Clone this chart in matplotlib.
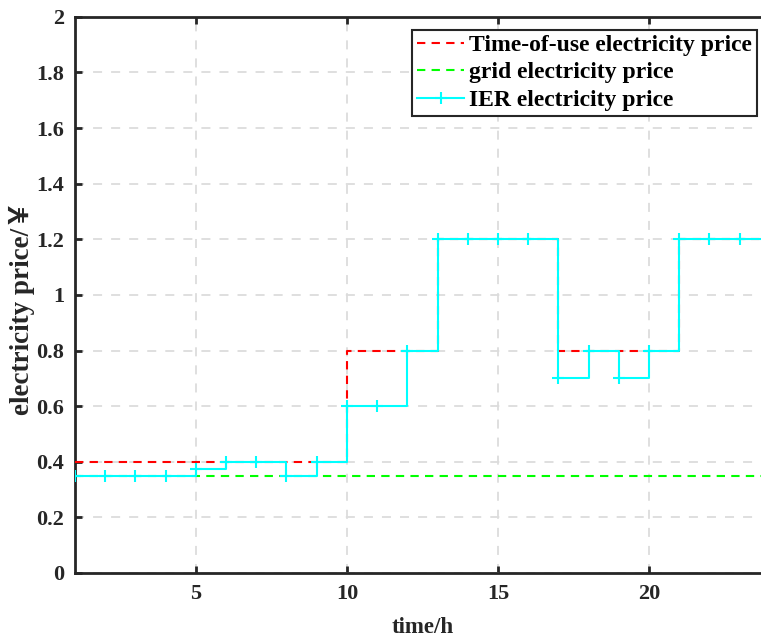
import matplotlib.pyplot as plt
from matplotlib.ticker import FuncFormatter

plt.rcParams['font.family'] = ['Liberation Serif', 'Noto Sans CJK SC', 'DejaVu Serif']
plt.rcParams['font.weight'] = 'bold'

hours = list(range(1, 25))
# time-of-use price
tou_price = [0.4] * 9 + [0.8] * 3 + [1.2] * 4 + [0.8] * 4 + [1.2] * 4
# grid price (flat)
grid_price = [0.35] * 24
# IER price
ier_price = [0.35, 0.35, 0.35, 0.35, 0.375, 0.4, 0.4, 0.35, 0.4, 0.6, 0.6, 0.8,
             1.2, 1.2, 1.2, 1.2, 0.7, 0.8, 0.7, 0.8, 1.2, 1.2, 1.2, 1.2]

fig = plt.figure(figsize=(7.61, 6.37), dpi=100)
ax = fig.add_axes([0.0986, 0.1005, 0.913, 0.873])

ax.step(hours, tou_price, where='post', color='red', linestyle=(0, (4, 3)),
        linewidth=1.5, label='Time-of-use electricity price', zorder=3)
ax.step(hours, grid_price, where='post', color='#00ff00', linestyle=(0, (4, 3)),
        linewidth=1.5, label='grid electricity price', zorder=3)
ax.step(hours, ier_price, where='post', color='cyan', linestyle='-', marker='+',
        markersize=8, markeredgewidth=1.5, linewidth=1.5,
        label='IER electricity price', zorder=4)

ax.set_xlim(1, 24)
ax.set_ylim(0, 2)
ax.set_xticks([5, 10, 15, 20])
ax.set_yticks([i * 0.2 for i in range(11)])
ax.yaxis.set_major_formatter(FuncFormatter(lambda v, p: '%g' % round(v, 2)))

ax.grid(True, color='#dcdcdc', linestyle=(0, (5, 5)), linewidth=1.3)
ax.set_axisbelow(True)

for s in ax.spines.values():
    s.set_linewidth(2)
    s.set_color('#262626')
ax.tick_params(direction='in', length=5, width=2, color='#262626',
               labelsize=16, labelcolor='#262626', top=True, right=True, pad=8)

ax.set_xlabel('time/h', fontsize=16.5, fontweight='bold', color='#262626', labelpad=9)
ax.set_ylabel('electricity price/￥', fontsize=19.5, fontweight='bold', color='#262626', labelpad=0)
ax.yaxis.set_label_coords(-0.058, 0.476)

leg = ax.legend(loc='upper right', bbox_to_anchor=(0.981, 0.977), fancybox=False,
                framealpha=1, edgecolor='#262626', fontsize=17, handlelength=2.0,
                borderpad=0.2, labelspacing=0.25, handletextpad=0.2, borderaxespad=0)
leg.get_frame().set_linewidth(1.5)
for t in leg.get_texts():
    t.set_fontweight('bold')

fig.savefig('out.png', dpi=100)
